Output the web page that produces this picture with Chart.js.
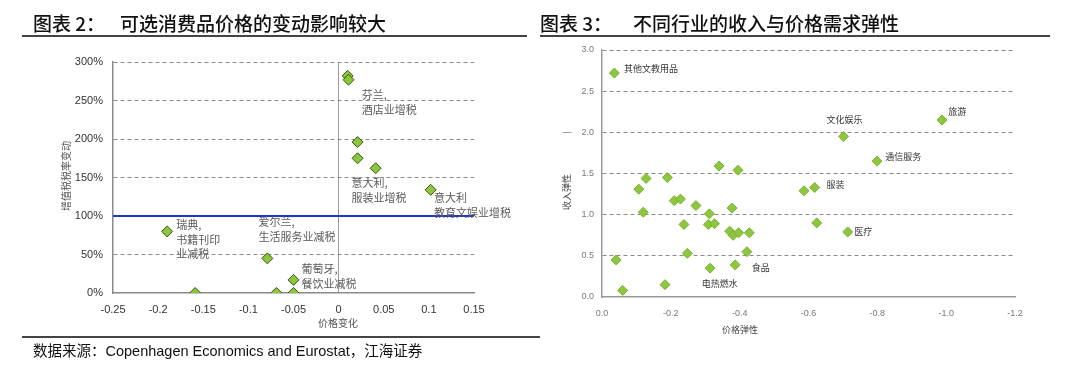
<!DOCTYPE html>
<html><head><meta charset="utf-8">
<script src="https://cdn.jsdelivr.net/npm/chart.js@4/dist/chart.umd.min.js"></script>
<style>
body{margin:0;width:1080px;height:368px;background:#fff;position:relative;overflow:hidden;font-family:'Liberation Sans','Noto Sans CJK SC',sans-serif;}
canvas{position:absolute;top:0;}
.t{position:absolute;font-family:'Noto Sans CJK SC','Liberation Sans',sans-serif;font-size:19px;font-weight:500;color:#111;line-height:19px;white-space:nowrap;}
.ln{position:absolute;height:1.5px;background:#444;}
.src{position:absolute;left:33px;top:343px;font-size:14.5px;color:#111;white-space:nowrap;line-height:16px;}
</style></head><body>
<canvas id="c1" width="540" height="368" style="left:0"></canvas>
<canvas id="c2" width="540" height="368" style="left:540px"></canvas>
<div class="t" style="left:33px;top:13px">图表 2：</div>
<div class="t" style="left:120px;top:13px">可选消费品价格的变动影响较大</div>
<div class="t" style="left:540px;top:13px">图表 3：</div>
<div class="t" style="left:633px;top:13px">不同行业的收入与价格需求弹性</div>
<div class="ln" style="left:22px;width:505px;top:35px"></div>
<div class="ln" style="left:540px;width:510px;top:35px"></div>
<div class="ln" style="left:22px;width:518px;top:336px"></div>
<div class="src">数据来源：Copenhagen Economics and Eurostat，江海证券</div>
<script>
// ---- Chart 2 data: price change vs VAT rate change ----
const priceChange = [0.010, 0.011, 0.021, 0.021, 0.041, 0.102, -0.190, -0.079, -0.050, -0.159, -0.069, -0.050];
const vatRateChange = [282, 277, 196, 175, 162, 134, 80, 45, 17, 0, 0, 0];
const vatTicksMin = 0, vatTicksMax = 300, vatStep = 50;
const priceMin = -0.25, priceMax = 0.15, priceStep = 0.05;
const refLevel = 100;
const notes2 = [
  {lines:['芬兰,', '酒店业增税'], x:0.0256, y:257},
  {lines:['意大利,', '服装业增税'], x:0.0144, y:143},
  {lines:['意大利', '教育文娱业增税'], x:0.1056, y:123},
  {lines:['瑞典,', '书籍刊印', '业减税'], x:-0.18, y:88},
  {lines:['爱尔兰,', '生活服务业减税'], x:-0.0889, y:92},
  {lines:['葡萄牙,', '餐饮业减税'], x:-0.0411, y:31}
];

// ---- Chart 3 data: price elasticity vs income elasticity ----
const priceElasticity = [-0.036, -0.041, -0.060, -0.107, -0.128, -0.120, -0.190, -0.183, -0.210, -0.228, -0.238, -0.248, -0.273, -0.312, -0.309, -0.327, -0.314, -0.340, -0.395, -0.378, -0.371, -0.381, -0.397, -0.428, -0.421, -0.387, -0.587, -0.618, -0.624, -0.714, -0.702, -0.799, -0.988];
const incomeElasticity = [2.72, 0.45, 0.08, 1.31, 1.44, 1.03, 1.45, 0.15, 1.17, 1.19, 0.88, 0.53, 1.11, 1.01, 0.88, 0.89, 0.35, 1.59, 1.54, 1.08, 0.80, 0.75, 0.78, 0.78, 0.55, 0.39, 1.29, 1.33, 0.90, 0.79, 1.95, 1.65, 2.15];
const notes3 = [
  {lines:['其他文教用品'], x:-0.064, y:2.77},
  {lines:['文化娱乐'], x:-0.652, y:2.16},
  {lines:['旅游'], x:-1.006, y:2.25},
  {lines:['通信服务'], x:-0.823, y:1.70},
  {lines:['服装'], x:-0.652, y:1.37},
  {lines:['医疗'], x:-0.733, y:0.79},
  {lines:['食品'], x:-0.435, y:0.36},
  {lines:['电热燃水'], x:-0.290, y:0.16}
];

const LAT = "'Liberation Sans','Noto Sans CJK SC',sans-serif";
const CJK = "'Noto Sans CJK SC','Liberation Sans',sans-serif";

function notesPlugin(id, notes, font, color, lh, titles){
  return {id, afterDraw(chart){
    const c = chart.ctx, xs = chart.scales.x, ys = chart.scales.y;
    c.save();
    c.font = font; c.fillStyle = color; c.textAlign = 'left'; c.textBaseline = 'middle';
    notes.forEach(n => {
      const px = xs.getPixelForValue(n.x), py = ys.getPixelForValue(n.y);
      n.lines.forEach((t,i) => c.fillText(t, px, py + i*lh));
    });
    titles.forEach(t => {
      c.save();
      c.font = t.font; c.fillStyle = t.color; c.textAlign = 'center'; c.textBaseline = 'middle';
      c.translate(t.x, t.y); c.rotate(t.rot || 0);
      c.fillText(t.text, 0, 0);
      c.restore();
    });
    c.restore();
  }};
}

// Chart 2
new Chart(document.getElementById('c1'), {
  type: 'scatter',
  data: {datasets: [
    {type:'line', data:[{x:priceMin,y:refLevel},{x:priceMax,y:refLevel}], borderColor:'#2233cc', borderWidth:2, pointRadius:0, order:2},
    {data: priceChange.map((x,i)=>({x, y:vatRateChange[i]})), pointStyle:'rectRot', pointRadius:5.5,
     backgroundColor:'#8cc63e', borderColor:'#3b5514', borderWidth:1, order:1}
  ]},
  options: {
    animation:false, responsive:false, events:[],
    layout:{padding:{left:0, top:62, right:66, bottom:0}},
    plugins:{legend:{display:false}, tooltip:{enabled:false}},
    scales:{
      x:{type:'linear', min:priceMin, max:priceMax,
         ticks:{stepSize:priceStep, padding:10, color:'#333', font:{family:LAT, size:11},
                callback:v=>{const r=Math.round(v*100)/100; return r===0?'0':String(r);}},
         grid:{drawTicks:false, lineWidth:1, color:c=>(c.tick && Math.abs(c.tick.value)<1e-9)?'#9a9a9a':'rgba(0,0,0,0)'},
         border:{color:'#8a8a8a', width:1.5},
         afterFit:s=>{s.height=75;}},
      y:{min:vatTicksMin, max:vatTicksMax,
         ticks:{stepSize:vatStep, padding:10, color:'#333', font:{family:LAT, size:11}, callback:v=>v+'%'},
         grid:{drawTicks:false, color:c=>(c.tick && (c.tick.value===0||c.tick.value===refLevel))?'rgba(0,0,0,0)':'#8a8a8a'},
         border:{color:'#8a8a8a', width:1.5, dash:[4,3]},
         afterFit:s=>{s.width=113;}}
    }
  },
  plugins:[notesPlugin('n2', notes2, "11px "+CJK, '#5a5a5a', 14.5, [
    {text:'增值税税率变动', x:66, y:176, rot:-Math.PI/2, font:"10px "+CJK, color:'#555'},
    {text:'价格变化', x:338, y:323, font:"10px "+CJK, color:'#555'}
  ])]
});

// Chart 3
new Chart(document.getElementById('c2'), {
  type: 'scatter',
  data: {datasets: [
    {data: priceElasticity.map((x,i)=>({x, y:incomeElasticity[i]})), pointStyle:'rectRot', pointRadius:5,
     backgroundColor:'#8dc63f', borderColor:'#7cb034', borderWidth:1}
  ]},
  options: {
    animation:false, responsive:false, events:[],
    layout:{padding:{left:0, top:50, right:65, bottom:0}},
    plugins:{legend:{display:false}, tooltip:{enabled:false}},
    scales:{
      x:{type:'linear', min:-1.2, max:0, reverse:true,
         ticks:{stepSize:0.2, padding:11, color:'#777', font:{family:LAT, size:9},
                callback:v=>Math.abs(v)<1e-9?'0.0':v.toFixed(1)},
         grid:{display:false, drawTicks:false},
         border:{color:'#999', width:1.5},
         afterFit:s=>{s.height=71;}},
      y:{min:0, max:3,
         ticks:{stepSize:0.5, padding:8, color:'#777', font:{family:LAT, size:9}, callback:v=>v.toFixed(1)},
         grid:{drawTicks:false, color:c=>(c.tick && c.tick.value===0)?'rgba(0,0,0,0)':'#8a8a8a'},
         border:{color:'#999', width:1.5, dash:[4,3]},
         afterFit:s=>{s.width=62;}}
    }
  },
  plugins:[notesPlugin('n3', notes3, "9px "+CJK, '#333', 11, [
    {text:'收入弹性', x:27, y:192, rot:-Math.PI/2, font:"9px "+CJK, color:'#444'},
    {text:'—', x:27, y:133, font:"9px "+LAT, color:'#666'},
    {text:'价格弹性', x:200, y:330, font:"9px "+CJK, color:'#444'}
  ])]
});
</script>
</body></html>
